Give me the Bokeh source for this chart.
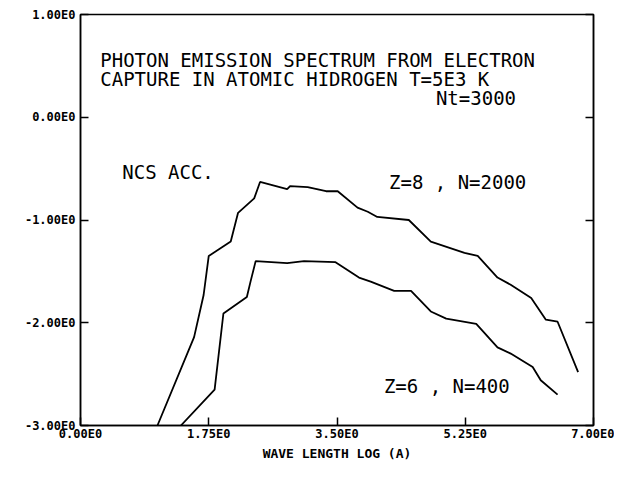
from bokeh.plotting import figure
from bokeh.models import Range1d, LinearAxis, FixedTicker, CustomJSTickFormatter, ColumnDataSource
from bokeh.core.properties import value
from bokeh.embed import file_html
from bokeh.resources import INLINE

# Z=8, N=2000 curve
x_z8 = [1.05, 1.55, 1.68, 1.75, 2.05, 2.15, 2.37, 2.45, 2.82, 2.86, 3.10, 3.35, 3.51,
        3.78, 3.92, 4.05, 4.48, 4.78, 5.24, 5.42, 5.69, 5.87, 6.15, 6.35, 6.51, 6.79]
y_z8 = [-3.00, -2.14, -1.73, -1.35, -1.21, -0.93, -0.79, -0.63, -0.70, -0.67, -0.68, -0.72, -0.72,
        -0.88, -0.92, -0.97, -1.00, -1.21, -1.32, -1.35, -1.56, -1.63, -1.76, -1.97, -1.99, -2.48]

# Z=6, N=400 curve
x_z6 = [1.37, 1.83, 1.95, 2.27, 2.32, 2.39, 2.82, 3.05, 3.48, 3.80, 3.96, 4.28, 4.51,
        4.78, 4.99, 5.40, 5.69, 5.87, 6.17, 6.28, 6.51]
y_z6 = [-3.00, -2.65, -1.91, -1.75, -1.60, -1.40, -1.42, -1.40, -1.41, -1.56, -1.60, -1.69, -1.69,
        -1.89, -1.96, -2.01, -2.24, -2.30, -2.43, -2.56, -2.70]

x_ticks = [0.0, 1.75, 3.5, 5.25, 7.0]
y_ticks = [1.0, 0.0, -1.0, -2.0, -3.0]

label_texts = ["PHOTON EMISSION SPECTRUM FROM ELECTRON",
               "CAPTURE IN ATOMIC HIDROGEN T=5E3 K",
               "Nt=3000",
               "NCS ACC.",
               "Z=8 , N=2000",
               "Z=6 , N=400"]
label_x = [0.27, 0.27, 4.85, 0.57, 4.21, 4.14]
label_y = [0.56, 0.37, 0.19, -0.53, -0.63, -2.62]

p = figure(width=614, height=463, output_backend="svg", toolbar_location=None,
           x_range=Range1d(0, 7), y_range=Range1d(-3, 1),
           min_border_left=80, min_border_right=21, min_border_top=14, min_border_bottom=33)
p.grid.visible = False
p.outline_line_color = "black"
p.outline_line_width = 1.5
p.background_fill_color = "white"
p.border_fill_color = "white"

fmt = CustomJSTickFormatter(code="return tick.toFixed(2) + 'E0';")
tick_font = "DejaVu Sans Mono"

xa = p.xaxis[0]
xa.ticker = FixedTicker(ticks=x_ticks)
xa.formatter = fmt
xa.axis_label = "WAVE LENGTH LOG (A)"
ya = p.yaxis[0]
ya.ticker = FixedTicker(ticks=y_ticks)
ya.formatter = fmt

right = LinearAxis(ticker=FixedTicker(ticks=y_ticks))
p.add_layout(right, "right")

for ax in [xa, ya, right]:
    ax.major_tick_in = 8
    ax.major_tick_out = 0
    ax.minor_tick_line_color = None
    ax.axis_line_color = "black"
    ax.axis_line_width = 1.5
    ax.major_tick_line_width = 1.5
    ax.major_label_text_font = tick_font
    ax.major_label_text_font_style = "bold"
    ax.major_label_text_font_size = "12px"
    ax.major_label_text_color = "black"
    ax.axis_label_text_font = tick_font
    ax.axis_label_text_font_style = "bold"
    ax.axis_label_text_font_size = "13px"
    ax.axis_label_text_color = "black"
right.major_label_text_color = None
right.major_label_text_font_size = "1px"
right.major_label_standoff = 0
xa.major_label_standoff = 1
xa.axis_label_standoff = 2
ya.major_label_standoff = 5

p.line(x_z8, y_z8, line_color="black", line_width=1.8)
p.line(x_z6, y_z6, line_color="black", line_width=1.8)

src = ColumnDataSource(dict(x=label_x, y=label_y, t=label_texts))
p.text(x="x", y="y", text="t", source=src, text_font=value("DejaVu Sans Mono"),
       text_font_size="19px", text_baseline="middle", text_align="left", text_color="black")

open("out.html", "w").write(file_html(p, INLINE))
